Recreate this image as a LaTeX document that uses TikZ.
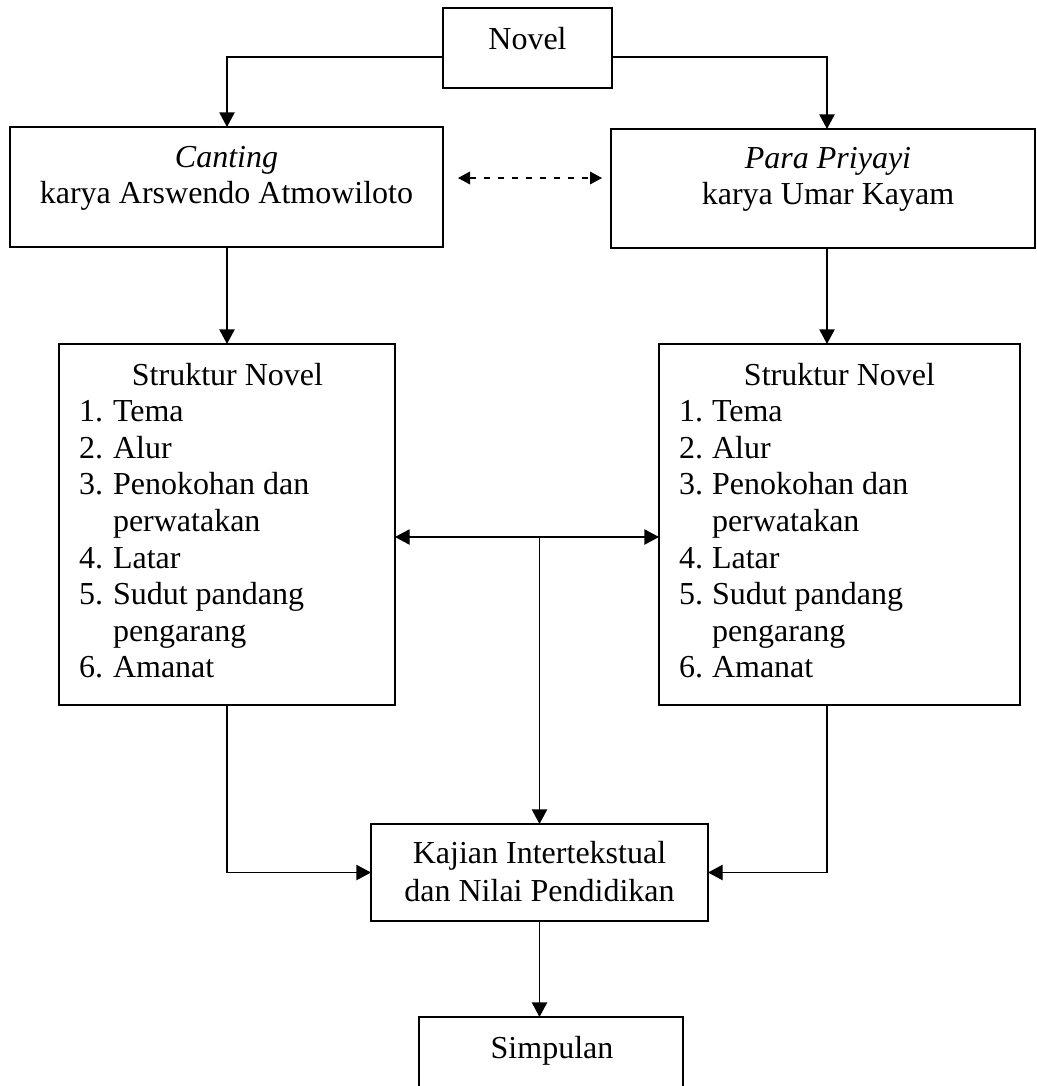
\documentclass[tikz,border=0pt]{standalone}
\usepackage{fontspec}
\setmainfont{Liberation Serif}
\usetikzlibrary{arrows.meta}
\begin{document}
\begin{tikzpicture}[x=0.75pt,y=-0.75pt,
  box/.style={draw, line width=1pt, inner sep=0pt, outer sep=0pt},
  txt/.style={inner sep=0pt, outer sep=0pt, font=\fontsize{24pt}{27.5pt}\selectfont},
  conn/.style={line width=1pt, -{Triangle[length=11pt,width=11.5pt]}},
  dblconn/.style={line width=1pt, {Triangle[length=11pt,width=11.5pt]}-{Triangle[length=11pt,width=11.5pt]}},
  dashconn/.style={line width=1pt, dash pattern=on 5pt off 5.5pt, {Triangle[length=9pt,width=9.5pt]}-{Triangle[length=9pt,width=9.5pt]}}]
\path[use as bounding box, clip] (0,0) rectangle (1036,1086);

% boxes
\node[box, minimum width=126.75pt, minimum height=60pt] (novel) at (527.5,48) {};
\node[box, minimum width=324.75pt, minimum height=90pt] (canting) at (226.5,187) {};
\node[box, minimum width=318pt, minimum height=89.25pt] (para) at (823,188.5) {};
\node[box, minimum width=252pt, minimum height=270.75pt] (strL) at (227,524.5) {};
\node[box, minimum width=270.75pt, minimum height=270.75pt] (strR) at (839.5,524.5) {};
\node[box, minimum width=252.75pt, minimum height=72.75pt] (kajian) at (539.5,872.5) {};
\node[box, minimum width=198pt, minimum height=75pt] (simpulan) at (551,1067) {};

% texts
\node[txt, anchor=base] (tNovel) at (527.5,49) {Novel};
\node[txt, anchor=base] (tCant1) at (226.5,167) {\textit{Canting}};
\node[txt, anchor=base] (tCant2) at (226.5,203) {karya Arswendo Atmowiloto};
\node[txt, anchor=base] (tPara1) at (828,168) {\textit{Para Priyayi}};
\node[txt, anchor=base] (tPara2) at (828,204) {karya Umar Kayam};

\foreach \s/\xc/\xn/\xt in {L/227.5/79/113, R/839.5/679/712} {
  \node[txt, anchor=base] (head\s) at (\xc,385) {Struktur Novel};
  \foreach \i/\n/\t in {1/1./Tema, 2/2./Alur, 3/3./Penokohan dan, 5/4./Latar, 6/5./Sudut pandang, 8/6./Amanat} {
    \node[txt, anchor=base west] (num\s\i) at (\xn,385+36.6*\i) {\n};
    \node[txt, anchor=base west] (item\s\i) at (\xt,385+36.6*\i) {\t};
  }
  \node[txt, anchor=base west] (item\s4) at (\xt,385+36.6*4) {perwatakan};
  \node[txt, anchor=base west] (item\s7) at (\xt,385+36.6*7) {pengarang};
}

\node[txt, anchor=base] (tKaj1) at (539.5,863) {Kajian Intertekstual};
\node[txt, anchor=base] (tKaj2) at (539.5,901) {dan Nilai Pendidikan};
\node[txt, anchor=base] (tSimp) at (552,1058) {Simpulan};

% helper coordinates
\coordinate (ny) at (0,57);
\coordinate (lx) at (227,0);
\coordinate (rx) at (827,0);
\coordinate (hy) at (0,537);
\coordinate (dl) at (458,178);
\coordinate (dr) at (602,178);

% connectors
\draw[conn] (novel.west |- ny) -| (canting.north -| lx);
\draw[conn] (novel.east |- ny) -| (para.north -| rx);
\draw[dashconn] (dl) -- (dr);
\draw[conn] (canting.south -| lx) -- (strL.north -| lx);
\draw[conn] (para.south -| rx) -- (strR.north -| rx);
\draw[dblconn] (strL.east |- hy) -- (strR.west |- hy);
\draw[conn] (kajian.north |- hy) -- (kajian.north);
\draw[conn] (strL.south -| lx) |- (kajian.west);
\draw[conn] (strR.south -| rx) |- (kajian.east);
\draw[conn] (kajian.south) -- (kajian.south |- simpulan.north);
\end{tikzpicture}
\end{document}
